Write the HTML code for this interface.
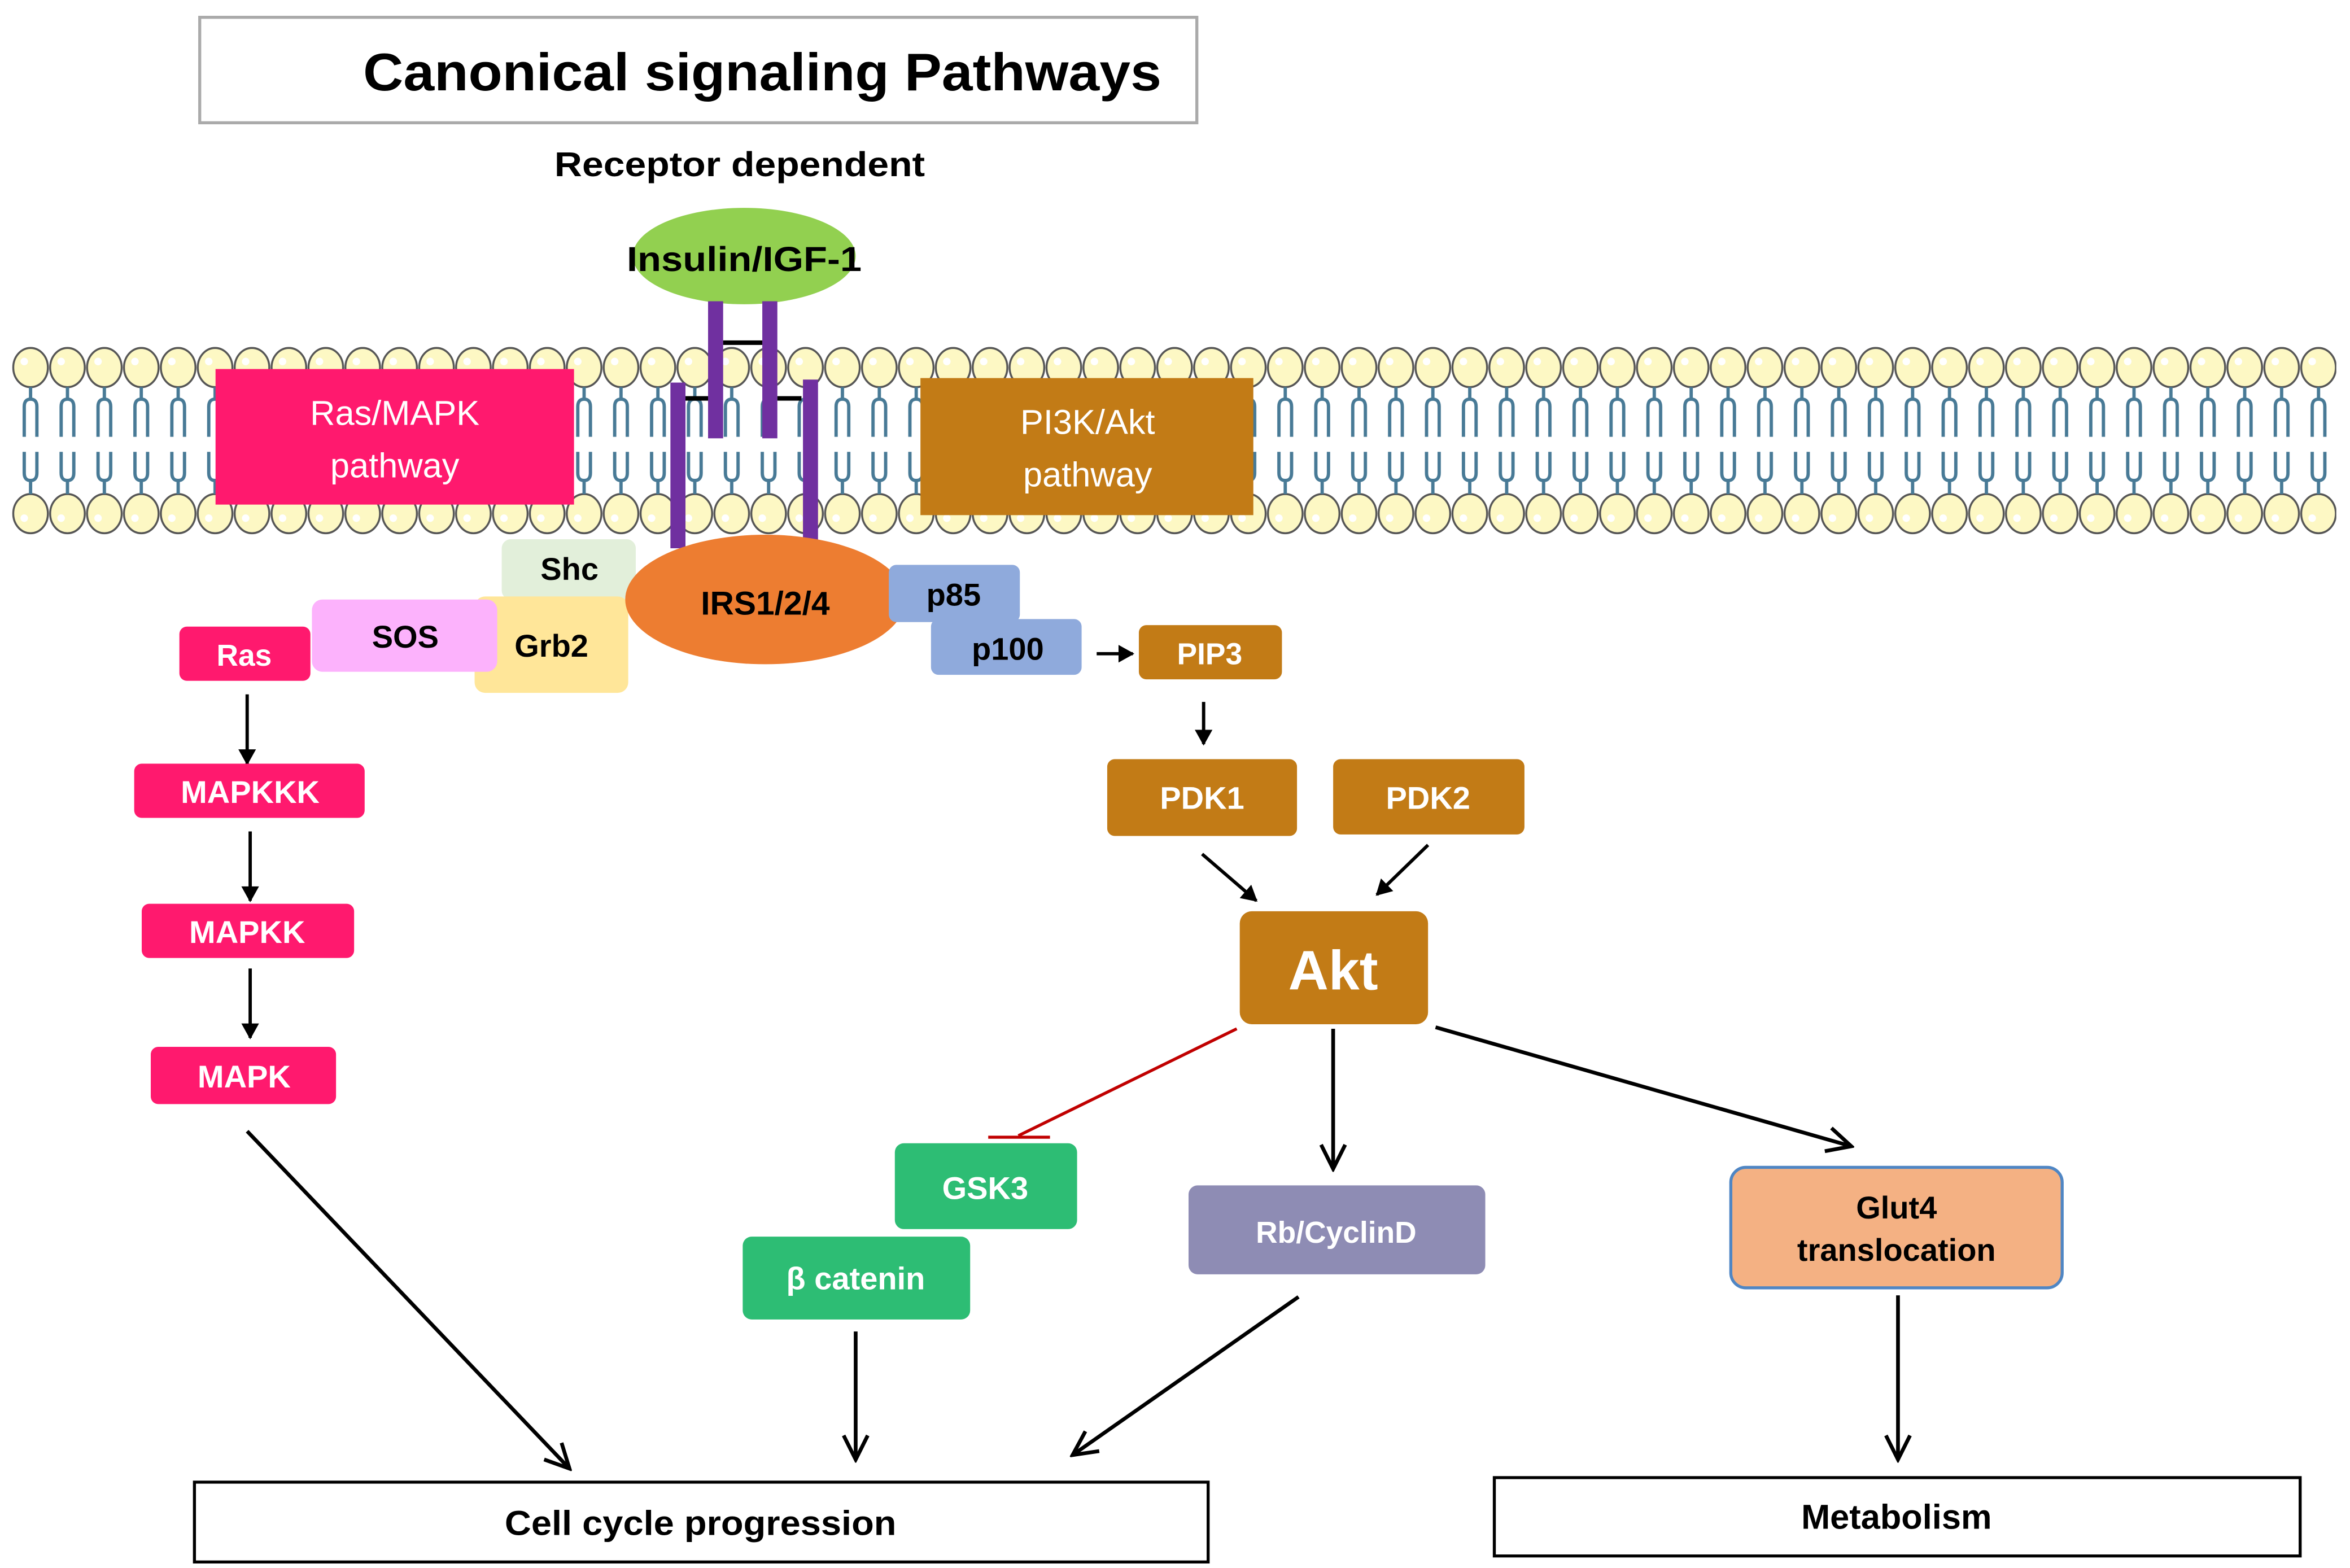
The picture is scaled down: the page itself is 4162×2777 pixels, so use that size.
<!DOCTYPE html>
<html><head><meta charset="utf-8"><style>
html,body{margin:0;padding:0;background:#fff;}
svg{display:block;}
text{font-family:"Liberation Sans",sans-serif;font-weight:bold;}
</style></head><body>
<svg width="4162" height="2777" viewBox="0 0 1560 1041" xmlns="http://www.w3.org/2000/svg">
<defs>
<marker id="ah" markerWidth="12" markerHeight="12" refX="10" refY="6" orient="auto" markerUnits="userSpaceOnUse" viewBox="0 0 12 12">
<path d="M1,1 L10,6 L1,11 Z" fill="#000" stroke="#000" stroke-width="1"/>
</marker>
<marker id="ah2" markerWidth="20" markerHeight="20" refX="18" refY="10" orient="auto" markerUnits="userSpaceOnUse" viewBox="0 0 20 20">
<path d="M2,2 L18,10 L2,18" fill="none" stroke="#000" stroke-width="2.5"/>
</marker>
<pattern id="mem" patternUnits="userSpaceOnUse" x="8" y="0" width="24.5" height="1041">
<ellipse cx="12.2" cy="244" rx="11.5" ry="13" fill="#fdf8c4" stroke="#555" stroke-width="1.3"/>
<circle cx="8" cy="240" r="2.5" fill="#fff"/>
<ellipse cx="12.2" cy="341" rx="11.5" ry="13" fill="#fdf8c4" stroke="#555" stroke-width="1.3"/>
<circle cx="8" cy="344" r="2.5" fill="#fff"/>
<path d="M12.2,257 V266 M8,290 V270 Q8,265 12.2,265 Q16.4,265 16.4,270 V290" fill="none" stroke="#487a96" stroke-width="2.2"/>
<path d="M12.2,328 V318 M8,300 V314 Q8,319 12.2,319 Q16.4,319 16.4,314 V300" fill="none" stroke="#487a96" stroke-width="2.2"/>
</pattern>
</defs>
<rect width="1560" height="1041" fill="#fff"/>
<rect x="8" y="228" width="1543" height="128" fill="url(#mem)"/>

<!-- title -->
<rect x="132.5" y="11.5" width="662" height="70" fill="#fff" stroke="#aaa" stroke-width="2"/>
<text x="506" y="60" font-size="35" text-anchor="middle" textLength="530" lengthAdjust="spacingAndGlyphs">Canonical signaling Pathways</text>
<text x="491" y="117" font-size="23" text-anchor="middle" textLength="246" lengthAdjust="spacingAndGlyphs">Receptor dependent</text>

<!-- receptor -->
<ellipse cx="494" cy="170" rx="74" ry="32" fill="#92d050"/>
<rect x="470" y="200" width="10" height="91" fill="#7030a0"/>
<rect x="506" y="200" width="10" height="91" fill="#7030a0"/>
<rect x="445" y="254" width="10" height="110" fill="#7030a0"/>
<rect x="533" y="252" width="10" height="110" fill="#7030a0"/>
<rect x="480" y="226" width="26" height="3" fill="#000"/>
<rect x="455" y="263" width="15" height="3" fill="#000"/>
<rect x="516" y="263" width="16" height="3" fill="#000"/>
<text x="494" y="180" font-size="23" text-anchor="middle" textLength="156" lengthAdjust="spacingAndGlyphs">Insulin/IGF-1</text>

<!-- pathway boxes -->
<rect x="143" y="245" width="238" height="90" fill="#ff196e"/>
<text x="262" y="282" font-size="23" fill="#fff" style="font-weight:normal" text-anchor="middle">Ras/MAPK</text>
<text x="262" y="317" font-size="23" fill="#fff" style="font-weight:normal" text-anchor="middle">pathway</text>
<rect x="611" y="251" width="221" height="91" fill="#c27b16"/>
<text x="722" y="288" font-size="23" fill="#fff" style="font-weight:normal" text-anchor="middle">PI3K/Akt</text>
<text x="722" y="323" font-size="23" fill="#fff" style="font-weight:normal" text-anchor="middle">pathway</text>

<!-- adaptors -->
<rect x="333" y="358" width="89" height="40" rx="6" fill="#e2efda"/>
<text x="378" y="385" font-size="21" text-anchor="middle">Shc</text>
<rect x="315" y="396" width="102" height="64" rx="7" fill="#ffe699"/>
<rect x="207" y="398" width="123" height="48" rx="7" fill="#fcb2fc"/>
<text x="269" y="430" font-size="21" text-anchor="middle">SOS</text>
<text x="366" y="436" font-size="21" text-anchor="middle">Grb2</text>
<rect x="119" y="416" width="87" height="36" rx="5" fill="#ff196e"/>
<text x="162" y="442" font-size="20" fill="#fff" text-anchor="middle">Ras</text>
<ellipse cx="508" cy="398" rx="93" ry="43" fill="#ed7d31"/>
<text x="508" y="408" font-size="22" text-anchor="middle">IRS1/2/4</text>
<rect x="590" y="375" width="87" height="38" rx="5" fill="#8faadc"/>
<text x="633" y="402" font-size="21" text-anchor="middle">p85</text>
<rect x="618" y="411" width="100" height="37" rx="5" fill="#8faadc"/>
<text x="669" y="438" font-size="21" text-anchor="middle">p100</text>

<!-- PI3K branch -->
<line x1="728" y1="434" x2="752" y2="434" stroke="#000" stroke-width="2.2" marker-end="url(#ah)"/>
<rect x="756" y="415" width="95" height="36" rx="5" fill="#c27b16"/>
<text x="803" y="441" font-size="20" fill="#fff" text-anchor="middle">PIP3</text>
<line x1="799" y1="466" x2="799" y2="494" stroke="#000" stroke-width="2.2" marker-end="url(#ah)"/>
<rect x="735" y="504" width="126" height="51" rx="5" fill="#c27b16"/>
<text x="798" y="537" font-size="21" fill="#fff" text-anchor="middle">PDK1</text>
<rect x="885" y="504" width="127" height="50" rx="5" fill="#c27b16"/>
<text x="948" y="537" font-size="21" fill="#fff" text-anchor="middle">PDK2</text>
<line x1="798" y1="567" x2="834" y2="598" stroke="#000" stroke-width="2.2" marker-end="url(#ah)"/>
<line x1="948" y1="561" x2="914" y2="594" stroke="#000" stroke-width="2.2" marker-end="url(#ah)"/>
<rect x="823" y="605" width="125" height="75" rx="8" fill="#c27b16"/>
<text x="885" y="657" font-size="37" fill="#fff" text-anchor="middle">Akt</text>

<line x1="821" y1="683" x2="676" y2="754" stroke="#c00000" stroke-width="2"/>
<line x1="656" y1="755" x2="697" y2="755" stroke="#c00000" stroke-width="2"/>
<line x1="885" y1="683" x2="885" y2="776" stroke="#000" stroke-width="2.5" marker-end="url(#ah2)"/>
<line x1="953" y1="682" x2="1229" y2="761" stroke="#000" stroke-width="2.5" marker-end="url(#ah2)"/>

<rect x="594" y="759" width="121" height="57" rx="6" fill="#2dbd74"/>
<text x="654" y="796" font-size="21" fill="#fff" text-anchor="middle">GSK3</text>
<rect x="493" y="821" width="151" height="55" rx="6" fill="#2dbd74"/>
<text x="568" y="856" font-size="21" fill="#fff" text-anchor="middle">β catenin</text>
<rect x="789" y="787" width="197" height="59" rx="6" fill="#8e8cb4"/>
<text x="887" y="825" font-size="20" fill="#fff" text-anchor="middle">Rb/CyclinD</text>
<rect x="1149" y="775" width="220" height="80" rx="10" fill="#f4b183" stroke="#4f86c4" stroke-width="2"/>
<text x="1259" y="809" font-size="21" text-anchor="middle">Glut4</text>
<text x="1259" y="837" font-size="21" text-anchor="middle">translocation</text>

<!-- MAPK branch -->
<line x1="164" y1="461" x2="164" y2="507" stroke="#000" stroke-width="2.2" marker-end="url(#ah)"/>
<rect x="89" y="507" width="153" height="36" rx="5" fill="#ff196e"/>
<text x="166" y="533" font-size="21" fill="#fff" text-anchor="middle">MAPKKK</text>
<line x1="166" y1="552" x2="166" y2="598" stroke="#000" stroke-width="2.2" marker-end="url(#ah)"/>
<rect x="94" y="600" width="141" height="36" rx="5" fill="#ff196e"/>
<text x="164" y="626" font-size="21" fill="#fff" text-anchor="middle">MAPKK</text>
<line x1="166" y1="643" x2="166" y2="689" stroke="#000" stroke-width="2.2" marker-end="url(#ah)"/>
<rect x="100" y="695" width="123" height="38" rx="5" fill="#ff196e"/>
<text x="162" y="722" font-size="21" fill="#fff" text-anchor="middle">MAPK</text>

<!-- to outputs -->
<line x1="164" y1="751" x2="378" y2="975" stroke="#000" stroke-width="2.5" marker-end="url(#ah2)"/>
<line x1="568" y1="884" x2="568" y2="969" stroke="#000" stroke-width="2.5" marker-end="url(#ah2)"/>
<line x1="862" y1="861" x2="712" y2="966" stroke="#000" stroke-width="2.5" marker-end="url(#ah2)"/>
<line x1="1260" y1="860" x2="1260" y2="969" stroke="#000" stroke-width="2.5" marker-end="url(#ah2)"/>

<rect x="129" y="984" width="673" height="53" fill="#fff" stroke="#000" stroke-width="2"/>
<text x="465" y="1019" font-size="23" text-anchor="middle" textLength="260" lengthAdjust="spacingAndGlyphs">Cell cycle progression</text>
<rect x="992" y="981" width="535" height="52" fill="#fff" stroke="#000" stroke-width="2"/>
<text x="1259" y="1015" font-size="23" text-anchor="middle">Metabolism</text>
</svg>
</body></html>
